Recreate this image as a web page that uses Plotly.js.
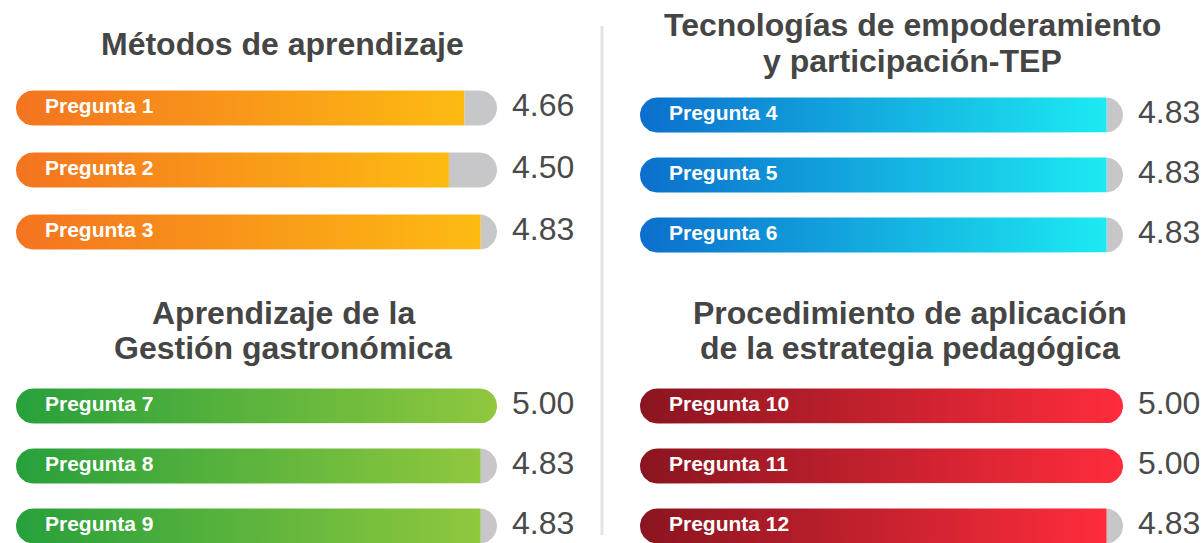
<!DOCTYPE html>
<html>
<head>
<meta charset="utf-8">
<script src="https://cdn.plot.ly/plotly-3.0.1.min.js"></script>
<style>
  html, body { margin: 0; padding: 0; background: #ffffff; }
  #chart { width: 1203px; height: 543px; }
</style>
</head>
<body>
<div id="chart"></div>
<script>
// ---------- DATA ----------
const tituloMetodos = ['Métodos de aprendizaje'];
const preguntasMetodos = ['Pregunta 1', 'Pregunta 2', 'Pregunta 3'];
const valoresMetodos = [4.66, 4.50, 4.83];

const tituloTEP = ['Tecnologías de empoderamiento', 'y participación-TEP'];
const preguntasTEP = ['Pregunta 4', 'Pregunta 5', 'Pregunta 6'];
const valoresTEP = [4.83, 4.83, 4.83];

const tituloGestion = ['Aprendizaje de la', 'Gestión gastronómica'];
const preguntasGestion = ['Pregunta 7', 'Pregunta 8', 'Pregunta 9'];
const valoresGestion = [5.00, 4.83, 4.83];

const tituloProcedimiento = ['Procedimiento de aplicación', 'de la estrategia pedagógica'];
const preguntasProcedimiento = ['Pregunta 10', 'Pregunta 11', 'Pregunta 12'];
const valoresProcedimiento = [5.00, 5.00, 4.83];

const escalaMax = 5;

// ---------- STYLE / LAYOUT ----------
const W = 1203, H = 543;
const FONT = 'Liberation Sans, Arial, Helvetica, sans-serif';
const barHeightPx = 35;
const labelOffsetPx = 29;
const valueOffsetPx = 15;
const trackColor = '#c7c7ca';

const panels = [
  { title: tituloMetodos, cats: preguntasMetodos, vals: valoresMetodos,
    grad: ['#f47420', '#fdbb12'], x0: 16, x1: 497, c0: 108, s: 62,
    titleX: 282, titleY: [44] },
  { title: tituloTEP, cats: preguntasTEP, vals: valoresTEP,
    grad: ['#0b6fcd', '#1ceaf2'], x0: 640, x1: 1123, c0: 115, s: 60,
    titleX: 912, titleY: [25, 61] },
  { title: tituloGestion, cats: preguntasGestion, vals: valoresGestion,
    grad: ['#27a03b', '#90c83e'], x0: 16, x1: 497, c0: 406, s: 60,
    titleX: 283, titleY: [313, 348] },
  { title: tituloProcedimiento, cats: preguntasProcedimiento, vals: valoresProcedimiento,
    grad: ['#8a1520', '#ff2c3c'], x0: 640, x1: 1123, c0: 406, s: 60,
    titleX: 910, titleY: [313, 348] }
];

function pillOutline(rx, ry, yc) {
  const xs = [], ys = [];
  const n = 24;
  // left arc (top -> left -> bottom)
  for (let i = 0; i <= n; i++) {
    const a = Math.PI / 2 + Math.PI * i / n;
    xs.push(rx + rx * Math.cos(a));
    ys.push(yc - ry * Math.sin(a));
  }
  // right arc (bottom -> right -> top)
  for (let i = 0; i <= n; i++) {
    const a = -Math.PI / 2 + Math.PI * i / n;
    xs.push(escalaMax - rx + rx * Math.cos(a));
    ys.push(yc - ry * Math.sin(a));
  }
  xs.push(xs[0]); ys.push(ys[0]);
  return { xs, ys };
}

const traces = [];
const annotations = [];
const layout = {
  width: W, height: H,
  margin: { l: 0, r: 0, t: 0, b: 0 },
  paper_bgcolor: '#ffffff',
  plot_bgcolor: 'rgba(0,0,0,0)',
  showlegend: false,
  hovermode: false,
  font: { family: FONT },
  shapes: [{
    type: 'line', xref: 'paper', yref: 'paper',
    x0: 602 / W, x1: 602 / W, y0: 1 - 26 / H, y1: 1 - 535 / H,
    line: { color: '#e4e4e4', width: 3 }
  }],
  annotations: annotations
};

panels.forEach((p, k) => {
  const idx = k + 1;
  const xa = 'x' + (idx === 1 ? '' : idx);
  const ya = 'y' + (idx === 1 ? '' : idx);
  const ppx = (p.x1 - p.x0) / escalaMax;     // px per value unit
  const rx = (barHeightPx / 2) / ppx;
  const ry = (barHeightPx / 2) / p.s;

  layout['xaxis' + (idx === 1 ? '' : idx)] = {
    domain: [0, 1], anchor: ya, visible: false, fixedrange: true,
    range: [-p.x0 / ppx, (W - p.x0) / ppx]
  };
  layout['yaxis' + (idx === 1 ? '' : idx)] = {
    domain: [0, 1], anchor: xa, visible: false, fixedrange: true,
    range: [(H - p.c0) / p.s, -p.c0 / p.s]
  };

  p.vals.forEach((v, i) => {
    const o = pillOutline(rx, ry, i);
    // grey remainder of the track
    if (v < escalaMax) {
      traces.push({
        type: 'scatter', mode: 'lines', xaxis: xa, yaxis: ya,
        x: o.xs.map(x => Math.max(x, v)), y: o.ys,
        fill: 'toself', fillcolor: trackColor,
        line: { width: 0, color: trackColor }, hoverinfo: 'skip'
      });
    }
    // coloured value bar with gradient
    traces.push({
      type: 'scatter', mode: 'lines', xaxis: xa, yaxis: ya,
      x: o.xs.map(x => Math.min(x, v)), y: o.ys,
      fill: 'toself',
      fillcolor: p.grad[0],
      fillgradient: { type: 'horizontal', colorscale: [[0, p.grad[0]], [1, p.grad[1]]] },
      line: { width: 0, color: p.grad[0] }, hoverinfo: 'skip'
    });
  });

  // labels inside bars
  traces.push({
    type: 'scatter', mode: 'text', xaxis: xa, yaxis: ya,
    x: p.cats.map(() => labelOffsetPx / ppx),
    y: p.cats.map((c, i) => i),
    text: p.cats, textposition: 'middle right', cliponaxis: false,
    textfont: { family: FONT, size: 21, color: '#ffffff', weight: 'bold' },
    hoverinfo: 'skip'
  });
  // values to the right
  traces.push({
    type: 'scatter', mode: 'text', xaxis: xa, yaxis: ya,
    x: p.vals.map(() => escalaMax + valueOffsetPx / ppx),
    y: p.vals.map((v, i) => i),
    text: p.vals.map(v => v.toFixed(2)), textposition: 'middle right', cliponaxis: false,
    textfont: { family: FONT, size: 32, color: '#4a4a4a' },
    hoverinfo: 'skip'
  });

  // panel titles
  p.title.forEach((line, j) => {
    annotations.push({
      xref: 'paper', yref: 'paper',
      x: p.titleX / W, y: 1 - p.titleY[j] / H,
      xanchor: 'center', yanchor: 'middle',
      text: line, showarrow: false,
      font: { family: FONT, size: 32, color: '#454545', weight: 'bold' }
    });
  });
});

Plotly.newPlot('chart', traces, layout, { displayModeBar: false, staticPlot: true });
</script>
</body>
</html>
